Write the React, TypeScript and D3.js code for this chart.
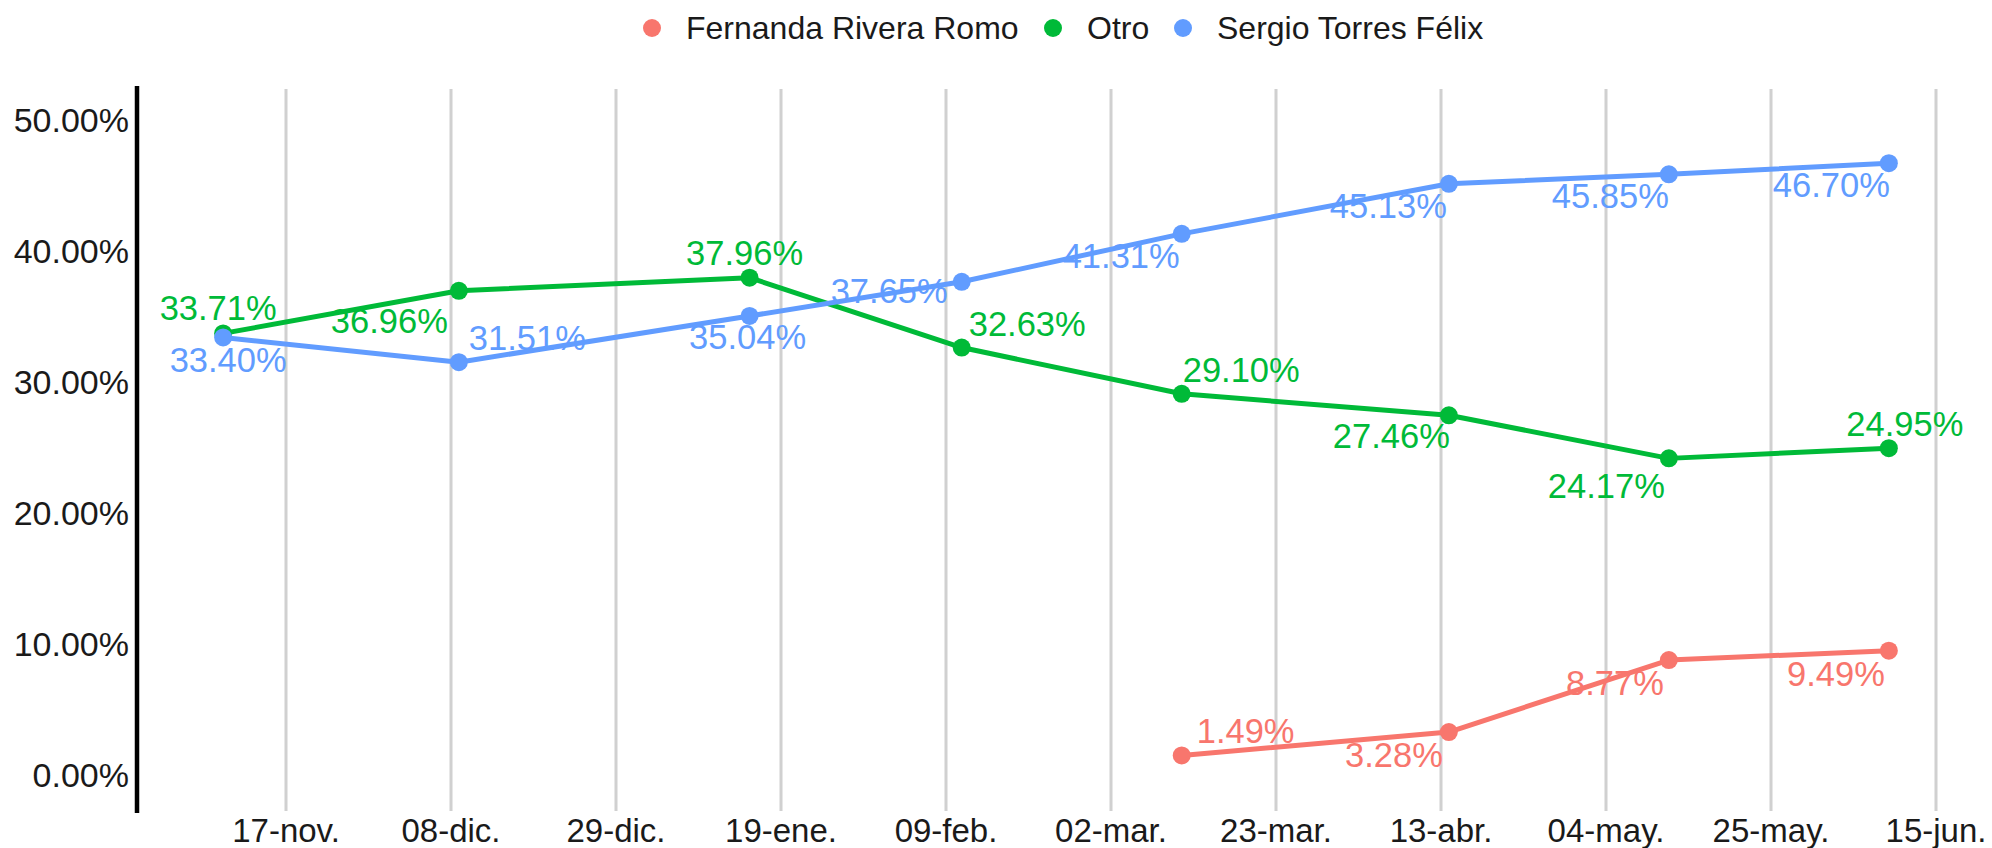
import React from 'react';
import * as d3 from 'd3';

// survey dates and the values of each series (percent)
const surveyDates = ['2020-11-09', '2020-12-09', '2021-01-15', '2021-02-11', '2021-03-11', '2021-04-14', '2021-05-12', '2021-06-09'];

const otroValues = [33.71, 36.96, 37.96, 32.63, 29.10, 27.46, 24.17, 24.95];
const sergioValues = [33.40, 31.51, 35.04, 37.65, 41.31, 45.13, 45.85, 46.70];
// Fernanda only appears from march on
const fernandaValues = [null, null, null, null, 1.49, 3.28, 8.77, 9.49];

const seriesNames = ['Fernanda Rivera Romo', 'Otro', 'Sergio Torres Félix'];
const seriesColors = ['#F8766D', '#00BA38', '#619CFF'];

const tickDates = ['2020-11-17', '2020-12-08', '2020-12-29', '2021-01-19', '2021-02-09', '2021-03-02', '2021-03-23', '2021-04-13', '2021-05-04', '2021-05-25', '2021-06-15'];
const tickLabels = ['17-nov.', '08-dic.', '29-dic.', '19-ene.', '09-feb.', '02-mar.', '23-mar.', '13-abr.', '04-may.', '25-may.', '15-jun.'];

const yTicks = [0, 10, 20, 30, 40, 50];

// label offsets [dx, dy, anchor] relative to each point, same order as the values
const fernandaLabelPos: [number, number, string][] = [
  [0, 0, 'middle'], [0, 0, 'middle'], [0, 0, 'middle'], [0, 0, 'middle'],
  [15, -12, 'start'], [-6, 35, 'end'], [-5, 35, 'end'], [-4, 35, 'end'],
];
const otroLabelPos: [number, number, string][] = [
  [-5, -13, 'middle'], [-11, 42, 'end'], [-5, -13, 'middle'], [7, -12, 'start'],
  [1, -12, 'start'], [1, 33, 'end'], [-4, 40, 'end'], [16, -12, 'middle'],
];
const sergioLabelPos: [number, number, string][] = [
  [5, 35, 'middle'], [10, -12, 'start'], [-2, 33, 'middle'], [-14, 21, 'end'],
  [-2, 34, 'end'], [-2, 34, 'end'], [0, 34, 'end'], [1, 34, 'end'],
];

const legendX = [652, 1053, 1183];

const W = 1992;
const H = 848;
const FONT = '"Liberation Sans", Arial, sans-serif';

const parse = d3.utcParse('%Y-%m-%d');

const App: React.FC = () => {
  const x = d3.scaleUtc()
    .domain([parse(tickDates[0])!, parse(tickDates[tickDates.length - 1])!])
    .range([286, 1936]);
  const y = d3.scaleLinear().domain([0, 50]).range([775, 120]);

  const dates = surveyDates.map(d => parse(d)!);
  const series = [
    { name: seriesNames[0], color: seriesColors[0], values: fernandaValues, labels: fernandaLabelPos },
    { name: seriesNames[1], color: seriesColors[1], values: otroValues, labels: otroLabelPos },
    { name: seriesNames[2], color: seriesColors[2], values: sergioValues, labels: sergioLabelPos },
  ];

  const line = d3.line<[Date, number | null]>()
    .defined(d => d[1] != null)
    .x(d => x(d[0]))
    .y(d => y(d[1] as number));

  return (
    <svg width={W} height={H} style={{ position: 'absolute', left: 0, top: 0, background: '#fff' }} fontFamily={FONT}>
      {/* vertical grid */}
      {tickDates.map((t, i) => (
        <line key={'g' + i} x1={x(parse(t)!)} x2={x(parse(t)!)} y1={89} y2={811} stroke="#d0d0d0" strokeWidth={3} />
      ))}
      {/* x labels */}
      {tickDates.map((t, i) => (
        <text key={'xl' + i} x={x(parse(t)!)} y={842} textAnchor="middle" fontSize={33} fill="#1a1a1a">{tickLabels[i]}</text>
      ))}
      {/* y axis */}
      <line x1={137} x2={137} y1={86} y2={813} stroke="#000" strokeWidth={4.5} />
      {yTicks.map(v => (
        <text key={'y' + v} x={129} y={y(v) + 12} textAnchor="end" fontSize={34} fill="#1a1a1a">{d3.format('.2f')(v) + '%'}</text>
      ))}

      {/* value labels */}
      {series.map(s => (
        <g key={'lab' + s.name}>
          {s.values.map((v, i) => v == null ? null : (
            <text key={i} x={x(dates[i]) + s.labels[i][0]} y={y(v) + s.labels[i][1]}
              textAnchor={s.labels[i][2]} fontSize={34.5} fill={s.color}>
              {d3.format('.2f')(v) + '%'}
            </text>
          ))}
        </g>
      ))}

      {/* lines and points */}
      {series.map(s => (
        <g key={'ser' + s.name}>
          <path d={line(dates.map((d, i) => [d, s.values[i]] as [Date, number | null])) || ''}
            fill="none" stroke={s.color} strokeWidth={5} strokeLinejoin="round" strokeLinecap="round" />
          {s.values.map((v, i) => v == null ? null : (
            <circle key={i} cx={x(dates[i])} cy={y(v)} r={9} fill={s.color} />
          ))}
        </g>
      ))}

      {/* legend */}
      {series.map((s, i) => (
        <g key={'leg' + s.name}>
          <circle cx={legendX[i]} cy={28} r={9} fill={s.color} />
          <text x={legendX[i] + 34} y={39} fontSize={32} fill="#1a1a1a">{s.name}</text>
        </g>
      ))}
    </svg>
  );
};

export default App;
